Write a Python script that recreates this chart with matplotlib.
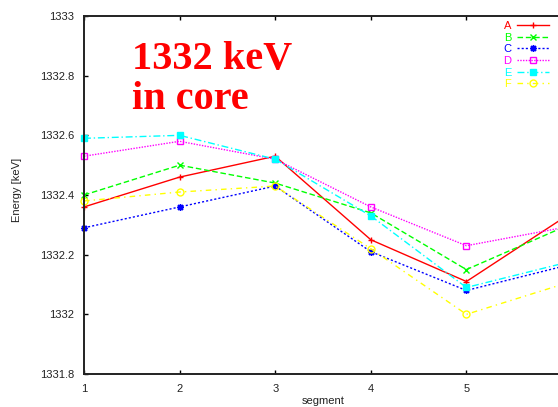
import matplotlib
matplotlib.use('Agg')
from matplotlib import pyplot as plt

# segment energies of the 1332 keV line, per detector
segments = [1, 2, 3, 4, 5, 6]
xtick_labels = ['1', '2', '3', '4', '5', '']  # segment 6 sits past the picture edge
A = [1332.36, 1332.46, 1332.53, 1332.25, 1332.11, 1332.32]
B = [1332.40, 1332.50, 1332.44, 1332.34, 1332.15, 1332.29]
C = [1332.29, 1332.36, 1332.43, 1332.21, 1332.08, 1332.16]
D = [1332.53, 1332.58, 1332.52, 1332.36, 1332.23, 1332.29]
E = [1332.59, 1332.60, 1332.52, 1332.33, 1332.09, 1332.17]
F = [1332.38, 1332.41, 1332.43, 1332.22, 1332.00, 1332.10]
yticks = [1331.8, 1332, 1332.2, 1332.4, 1332.6, 1332.8, 1333]
ytick_labels = ['1331.8', '1332', '1332.2', '1332.4', '1332.6', '1332.8', '1333']

plt.rcParams['font.family'] = ['Liberation Sans', 'DejaVu Sans']

W, H = 558, 407
fig = plt.figure(figsize=(W / 100, H / 100), dpi=100)
# plot box runs a little past the right edge of the picture
ax = fig.add_axes([84 / W, (H - 374) / H, (562 - 84) / W, 358 / H])

styles = [
    ('A', A, '#ff0000', '-', '+', 'full'),
    ('B', B, '#00ff00', (0, (4, 2)), 'x', 'full'),
    ('C', C, '#0000ff', (0, (1.5, 1.5)), (8, 2, 0), 'full'),
    ('D', D, '#ff00ff', (0, (1, 1)), 's', 'none'),
    ('E', E, '#00ffff', (0, (5, 2, 1, 2)), 's', 'full'),
    ('F', F, '#ffff00', (0, (4, 3, 1, 3)), 'o', 'none'),
]
for name, vals, col, ls, mk, fill in styles:
    ax.plot(segments, vals, color=col, linestyle=ls, linewidth=1.0,
            marker=mk, markersize=5, markeredgewidth=1.0, fillstyle=fill,
            label=name, clip_on=False)

ax.set_xlim(1, 6)
ax.set_ylim(1331.8, 1333)
ax.set_xticks(segments)
ax.set_xticklabels(xtick_labels)
ax.set_yticks(yticks)
ax.set_yticklabels(ytick_labels)
ax.tick_params(direction='in', length=3, width=1, top=True, right=True,
               labelsize=8, labelcolor='#222222', pad=7)
for s in ax.spines.values():
    s.set_linewidth(1.4)
    s.set_color('#222222')

fig.text(17 / W, 1 - 190 / H, 'Energy [keV]', rotation=90, ha='center', va='center',
         fontsize=8, color='#222222')
fig.text(323 / W, 1 - 401 / H, 'segment', ha='center', va='center',
         fontsize=8, color='#222222')

fig.text(132 / W, 1 - 69 / H, '1332 keV', ha='left', va='baseline', color='#ff0000',
         fontsize=29, fontweight='bold', family='Liberation Serif')
fig.text(132 / W, 1 - 109 / H, 'in core', ha='left', va='baseline', color='#ff0000',
         fontsize=29, fontweight='bold', family='Liberation Serif')

leg = ax.legend(loc='upper right', bbox_to_anchor=((549 - 84) / 478, (374 - 21) / 358),
                frameon=False, markerfirst=False, fontsize=8, handlelength=2.9,
                handletextpad=0.5, labelspacing=0.15, borderpad=0, borderaxespad=0)
for txt, st in zip(leg.get_texts(), styles):
    txt.set_color(st[2])

fig.savefig('out.png', dpi=100)
